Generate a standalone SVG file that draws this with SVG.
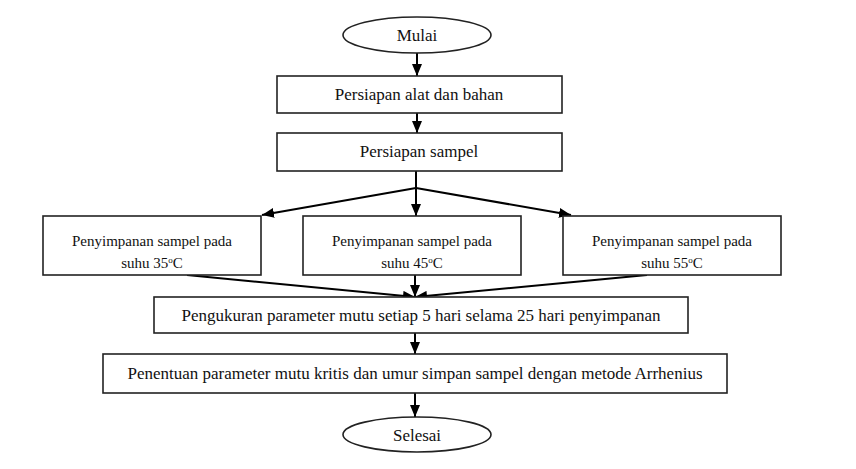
<svg xmlns="http://www.w3.org/2000/svg" width="856" height="469" viewBox="0 0 856 469">
<defs>
<marker id="ah" viewBox="0 0 12 10" refX="12" refY="5" markerWidth="12" markerHeight="10" markerUnits="userSpaceOnUse" orient="auto">
<path d="M0,0 L12,5 L0,10 z" fill="#000"/>
</marker>
<style>
.box{fill:#fff;stroke:#222;stroke-width:1.6}
.t{font-family:"Liberation Serif","Times New Roman",serif;font-size:17px;fill:#111;text-anchor:middle}
.s{font-family:"Liberation Serif","Times New Roman",serif;font-size:15px;fill:#111;text-anchor:middle}
.c{stroke:#000;stroke-width:2;fill:none}
.c2{stroke:#000;stroke-width:2;fill:none;marker-end:url(#ah)}
</style>
</defs>
<rect width="856" height="469" fill="#fff"/>
<g id="connectors">
<line class="c2" x1="417" y1="53" x2="417" y2="76"/>
<line class="c2" x1="417" y1="113" x2="417" y2="133"/>
<line class="c" x1="416" y1="171" x2="416" y2="188"/>
<line class="c2" x1="416" y1="188" x2="416" y2="216"/>
<line class="c2" x1="416" y1="188" x2="262" y2="215"/>
<line class="c2" x1="416" y1="188" x2="571" y2="215"/>
<line class="c2" x1="187" y1="275" x2="415" y2="297"/>
<line class="c2" x1="415" y1="275" x2="415" y2="297"/>
<line class="c2" x1="647" y1="275" x2="415" y2="297"/>
<line class="c2" x1="415" y1="333" x2="415" y2="354"/>
<line class="c2" x1="415" y1="393" x2="415" y2="417"/>
</g>
<g id="mulai">
<ellipse class="box" cx="417" cy="35" rx="74" ry="18"/>
<text class="t" x="417" y="41">Mulai</text>
</g>
<g id="persiapan-alat">
<rect class="box" x="277" y="76" width="285" height="37"/>
<text class="t" x="419" y="100">Persiapan alat dan bahan</text>
</g>
<g id="persiapan-sampel">
<rect class="box" x="277" y="133" width="285" height="38"/>
<text class="t" x="419" y="157">Persiapan sampel</text>
</g>
<g id="simpan-35">
<rect class="box" x="43" y="216" width="218" height="59"/>
<text class="s" x="152" y="246">Penyimpanan sampel pada</text>
<text class="s" x="152" y="268">suhu 35<tspan font-size="9" dy="-5">o</tspan><tspan dy="5">C</tspan></text>
</g>
<g id="simpan-45">
<rect class="box" x="303" y="216" width="218" height="59"/>
<text class="s" x="412" y="246">Penyimpanan sampel pada</text>
<text class="s" x="412" y="268">suhu 45<tspan font-size="9" dy="-5">o</tspan><tspan dy="5">C</tspan></text>
</g>
<g id="simpan-55">
<rect class="box" x="563" y="216" width="218" height="59"/>
<text class="s" x="672" y="246">Penyimpanan sampel pada</text>
<text class="s" x="672" y="268">suhu 55<tspan font-size="9" dy="-5">o</tspan><tspan dy="5">C</tspan></text>
</g>
<g id="pengukuran">
<rect class="box" x="154" y="297" width="534" height="36"/>
<text class="t" x="421" y="321">Pengukuran parameter mutu setiap 5 hari selama 25 hari penyimpanan</text>
</g>
<g id="penentuan">
<rect class="box" x="103" y="354" width="624" height="39"/>
<text class="t" x="415" y="379">Penentuan parameter mutu kritis dan umur simpan sampel dengan metode Arrhenius</text>
</g>
<g id="selesai">
<ellipse class="box" cx="417" cy="434.5" rx="74" ry="17.5"/>
<text class="t" x="417" y="441">Selesai</text>
</g>
</svg>
